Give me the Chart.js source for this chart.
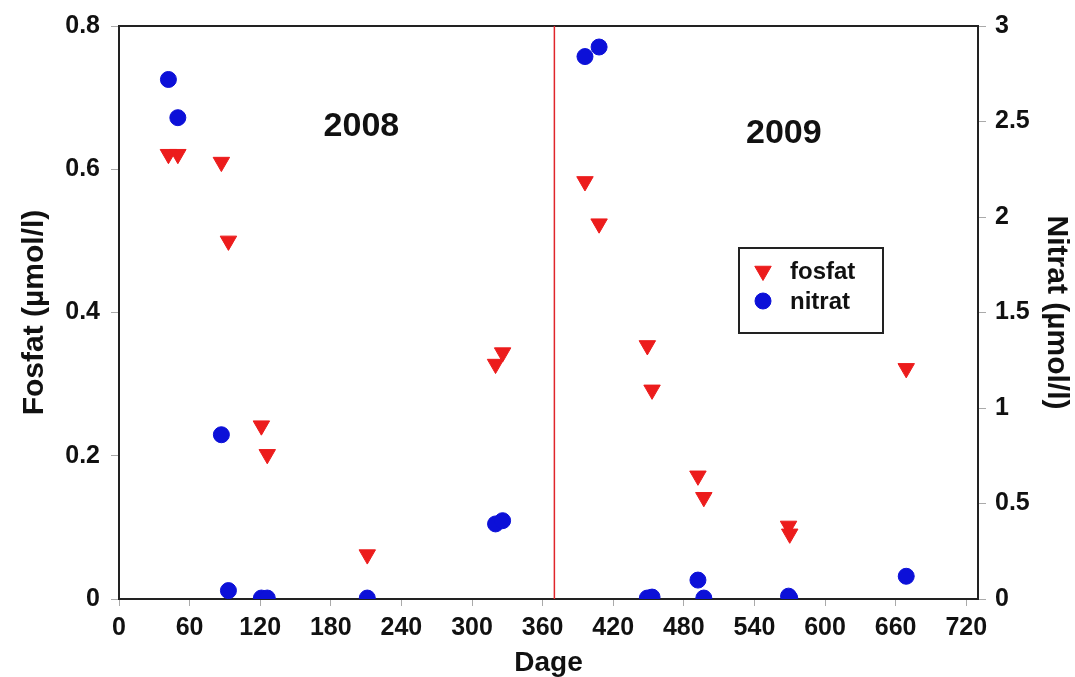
<!DOCTYPE html>
<html>
<head>
<meta charset="utf-8">
<script src="https://cdn.jsdelivr.net/npm/chart.js@4.4.1/dist/chart.umd.min.js"></script>
<style>
  html, body { margin: 0; padding: 0; background: #fff; }
  #wrap { width: 1075px; height: 677px; }
</style>
</head>
<body>
<div id="wrap"><canvas id="chart" width="1075" height="677"></canvas></div>
<script>
// prøvetagningsdage (dage fra start)
const dage = [42, 50, 87, 93, 121, 126, 211, 320, 326, 396, 408, 449, 453, 492, 497, 569, 570, 669];
// fosfat, venstre akse (µmol/l)
const fosfat = [0.621, 0.621, 0.61, 0.50, 0.242, 0.202, 0.062, 0.328, 0.344, 0.583, 0.524, 0.354, 0.292, 0.172, 0.142, 0.102, 0.091, 0.322];
// nitrat, højre akse (µmol/l)
const nitrat = [2.72, 2.52, 0.86, 0.044, 0.005, 0.005, 0.005, 0.393, 0.41, 2.84, 2.89, 0.005, 0.01, 0.099, 0.005, 0.015, 0.005, 0.119];

const aarsskifte = 370;
const aarstal = ['2008', '2009'];
const aarstalDag = [206, 565];
const aarstalNiveau = [0.659, 0.650];

const RED = '#ec1c1c';
const BLUE = '#0c10d8';
const FONT = "'Liberation Sans', Arial, Helvetica, sans-serif";

Chart.defaults.font.family = FONT;
Chart.defaults.color = '#111';

const toPoints = (xs, ys) => xs.map((x, i) => ({ x, y: ys[i] }));
const fmt = (v) => String(Number(v.toFixed(2)));

const aarstalPlugin = {
  id: 'aarstal',
  afterDatasetsDraw(chart) {
    const { ctx, scales } = chart;
    ctx.save();
    ctx.font = `bold 34px ${FONT}`;
    ctx.fillStyle = '#111';
    ctx.textAlign = 'center';
    ctx.textBaseline = 'middle';
    aarstal.forEach((txt, i) => {
      ctx.fillText(txt, scales.x.getPixelForValue(aarstalDag[i]), scales.y.getPixelForValue(aarstalNiveau[i]));
    });
    ctx.restore();
  },
};

const boksLegend = {
  id: 'boksLegend',
  afterDraw(chart) {
    const { ctx } = chart;
    const box = { x: 739, y: 248, w: 144, h: 85 };
    ctx.save();
    ctx.fillStyle = '#fff';
    ctx.fillRect(box.x, box.y, box.w, box.h);
    ctx.strokeStyle = '#222';
    ctx.lineWidth = 2;
    ctx.strokeRect(box.x, box.y, box.w, box.h);
    const rows = chart.data.datasets.filter((d) => d.label);
    rows.forEach((ds, i) => {
      const cy = box.y + 23 + i * 30;
      ctx.fillStyle = ds.backgroundColor;
      ctx.strokeStyle = ds.borderColor;
      ctx.lineWidth = 1;
      Chart.helpers.drawPoint(ctx, {
        pointStyle: ds.pointStyle,
        radius: ds.pointRadius,
        rotation: ds.pointRotation || 0,
        borderWidth: 1,
      }, box.x + 24, cy);
      ctx.fillStyle = '#111';
      ctx.font = `bold 24px ${FONT}`;
      ctx.textAlign = 'left';
      ctx.textBaseline = 'middle';
      ctx.fillText(ds.label, box.x + 51, cy + 1);
    });
    ctx.restore();
  },
};

const axisBorder = { display: true, color: '#222', width: 2 };
const tickGrid = { display: true, drawOnChartArea: false, drawTicks: true, tickLength: 8, tickColor: '#aaa', tickWidth: 1 };
const tickFont = { size: 25, weight: 'bold' };
const titleFont = { size: 28, weight: 'bold' };
const sideTitleFont = { size: 30, weight: 'bold' };

new Chart(document.getElementById('chart'), {
  type: 'scatter',
  data: {
    datasets: [
      {
        label: 'fosfat',
        data: toPoints(dage, fosfat),
        yAxisID: 'y',
        pointStyle: 'triangle',
        pointRotation: 180,
        pointRadius: 9.5,
        backgroundColor: RED,
        borderColor: RED,
        borderWidth: 1,
        clip: 0,
        order: 1,
      },
      {
        label: 'nitrat',
        data: toPoints(dage, nitrat),
        yAxisID: 'y2',
        pointStyle: 'circle',
        pointRadius: 8,
        backgroundColor: BLUE,
        borderColor: BLUE,
        borderWidth: 1,
        clip: 0,
        order: 2,
      },
      {
        type: 'line',
        data: [{ x: aarsskifte, y: 0 }, { x: aarsskifte, y: 0.8 }],
        yAxisID: 'y',
        borderColor: '#e0252b',
        borderWidth: 1.5,
        pointRadius: 0,
        order: 3,
      },
    ],
  },
  options: {
    responsive: false,
    animation: false,
    events: [],
    layout: { padding: 0 },
    plugins: { legend: { display: false }, tooltip: { enabled: false } },
    scales: {
      x: {
        type: 'linear',
        position: 'bottom',
        min: 0,
        max: 730,
        border: axisBorder,
        grid: { ...tickGrid, tickLength: 7 },
        ticks: { stepSize: 60, includeBounds: false, maxRotation: 0, autoSkip: false, padding: 7, font: tickFont, color: '#111' },
        title: { display: true, text: 'Dage', font: { ...titleFont, lineHeight: 1 }, color: '#111', padding: 0 },
        afterFit: (s) => { s.height = 78; },
      },
      xTop: {
        type: 'linear',
        position: 'top',
        min: 0,
        max: 730,
        border: axisBorder,
        grid: { display: true, drawOnChartArea: false, drawTicks: false },
        ticks: { display: false },
        afterFit: (s) => { s.height = 23; },
      },
      y: {
        position: 'left',
        min: 0,
        max: 0.8,
        border: axisBorder,
        grid: tickGrid,
        ticks: { stepSize: 0.2, padding: 11, font: tickFont, color: '#111', callback: fmt },
        title: { display: true, text: 'Fosfat (µmol/l)', font: sideTitleFont, color: '#111', padding: { top: 17, bottom: 0 } },
        afterFit: (s) => { s.width = 119; },
      },
      y2: {
        position: 'right',
        min: 0,
        max: 3,
        border: axisBorder,
        grid: tickGrid,
        ticks: { stepSize: 0.5, padding: 9, font: tickFont, color: '#111', callback: fmt },
        title: { display: true, text: 'Nitrat (µmol/l)', font: sideTitleFont, color: '#111', padding: { top: 1, bottom: 0 } },
        afterFit: (s) => { s.width = 97; },
      },
    },
  },
  plugins: [aarstalPlugin, boksLegend],
});
</script>
</body>
</html>
